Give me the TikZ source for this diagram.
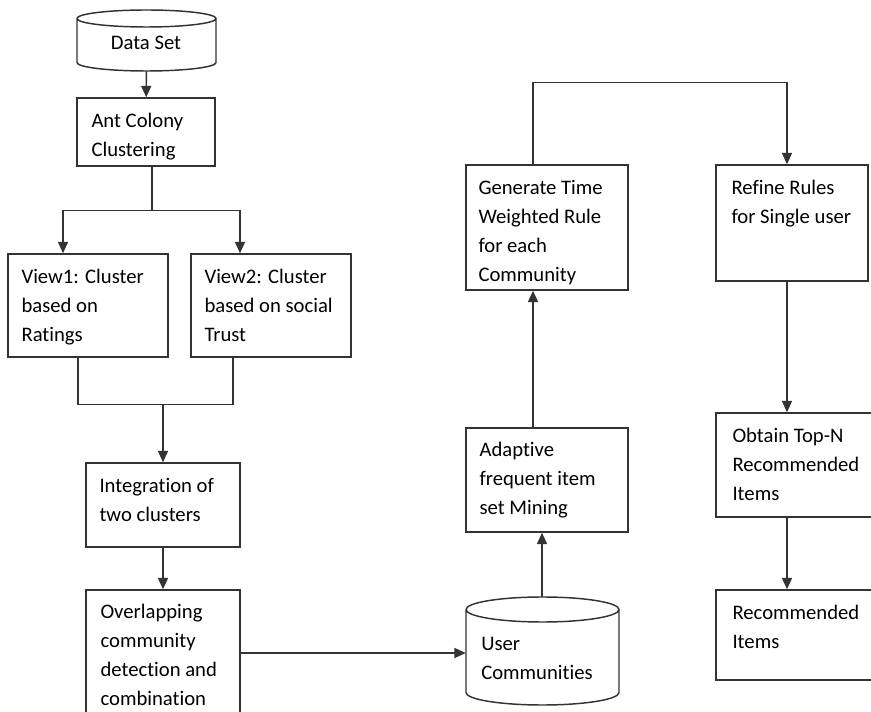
\documentclass[tikz,border=0pt]{standalone}
\usepackage{fontspec}
\setmainfont{Carlito}[Ligatures=CommonOff]
\usetikzlibrary{arrows.meta,fit}

\tikzset{
  stage/.style={draw=black!80, line width=1.1pt, inner sep=0pt},
  spot/.style={inner sep=0pt},
  txt/.style={anchor=north west, inner sep=0pt, align=left, font=\fontsize{15.5}{21.7}\selectfont},
  link/.style={draw=black!80, line width=1.1pt},
  flow/.style={link, -{Triangle[length=8.5pt,width=7.5pt]}},
}

\begin{document}
\begin{tikzpicture}[x=0.75pt,y=0.75pt,yscale=-1,xscale=1]
\clip (0,0) rectangle (871,712);

%Data Set drum
\node[spot, fit={(77,10) (216,71)}] (data) {};
\draw[link] (77,18.5) arc[start angle=180, end angle=-180, x radius=69.5, y radius=8.5]
  (77,18.5) -- (77,62.5) arc[start angle=180, end angle=0, x radius=69.5, y radius=8.5] -- (216,18.5);

%left column
\node[stage, fit={(77,98) (215,166)}] (ant) {};
\node[stage, fit={(8,254) (168,357)}] (view1) {};
\node[stage, fit={(191,254) (351,357)}] (view2) {};
\node[stage, fit={(86,463) (240,547)}] (integ) {};
\node[stage, fit={(86,590) (240,716)}] (overlap) {};

%User Communities drum
\node[spot, fit={(466,597) (619,705)}] (comm) {};
\draw[link] (466,609.5) arc[start angle=180, end angle=-180, x radius=76.5, y radius=12.5]
  (466,609.5) -- (466,692.5) arc[start angle=180, end angle=0, x radius=76.5, y radius=12.5] -- (619,609.5);

%middle column
\node[stage, fit={(466,428) (628,532)}] (mine) {};
\node[stage, fit={(466,165) (628,290)}] (rule) {};

%right column
\node[stage, fit={(716,165) (868,281)}] (refine) {};
\node[stage, fit={(716,413) (880,517)}] (topn) {};
\node[stage, fit={(716,590) (880,680)}] (rec) {};

% Text
\node[txt, anchor=base] (data-t) at (146,50) {Data Set};
\node[txt] (ant-t) at ([shift={(15,16)}]ant.north west) {Ant Colony\\Clustering};
\node[txt] (view1-t) at ([shift={(14,16)}]view1.north west) {View1: Cluster\\based on\\Ratings};
\node[txt] (view2-t) at ([shift={(14,16)}]view2.north west) {View2: Cluster\\based on social\\Trust};
\node[txt] (integ-t) at ([shift={(14,16)}]integ.north west) {Integration of\\two clusters};
\node[txt] (overlap-t) at ([shift={(15,15)}]overlap.north west) {Overlapping\\community\\detection and\\combination};
\node[txt] (comm-t) at (481,637) {User\\Communities};
\node[txt] (mine-t) at ([shift={(14,15)}]mine.north west) {Adaptive\\frequent item\\set Mining};
\node[txt] (rule-t) at ([shift={(13,16)}]rule.north west) {Generate Time\\Weighted Rule\\for each\\Community};
\node[txt] (refine-t) at ([shift={(16,16)}]refine.north west) {Refine Rules\\for Single user};
\node[txt] (topn-t) at ([shift={(17,16)}]topn.north west) {Obtain Top-N\\Recommended\\Items};
\node[txt] (rec-t) at ([shift={(17,16)}]rec.north west) {Recommended\\Items};

% Connectors
\draw[flow] (data) -- (ant);
\draw[flow] ([xshift=4.5pt]ant.south) -- ++(0,44) -| ([xshift=-18.75pt]view1.north);
\draw[flow] ([xshift=4.5pt]ant.south) -- ++(0,44) -| ([xshift=-23.25pt]view2.north);
\draw[link] ([xshift=-7.5pt]view1.south) -- ++(0,47) coordinate (join) -| ([xshift=-28.5pt]view2.south);
\draw[flow] (integ.north |- join) -- (integ);
\draw[flow] (integ) -- (overlap);
\draw[flow] (overlap.east) -- (overlap.east -| comm.west);
\draw[flow] ([xshift=-0.375pt]comm.north) -- ([xshift=-0.375pt]comm.north |- mine.south);
\draw[flow] ([xshift=-10.5pt]mine.north) -- ([xshift=-10.5pt]rule.south);
\draw[flow] ([xshift=-10.5pt]rule.north) -- ++(0,-82) -| ([xshift=-3.75pt]refine.north);
\coordinate (drop) at ([xshift=-3.75pt]refine.south);
\draw[flow] (drop) -- (drop |- topn.north);
\draw[flow] (drop |- topn.south) -- (drop |- rec.north);

\end{tikzpicture}
\end{document}
